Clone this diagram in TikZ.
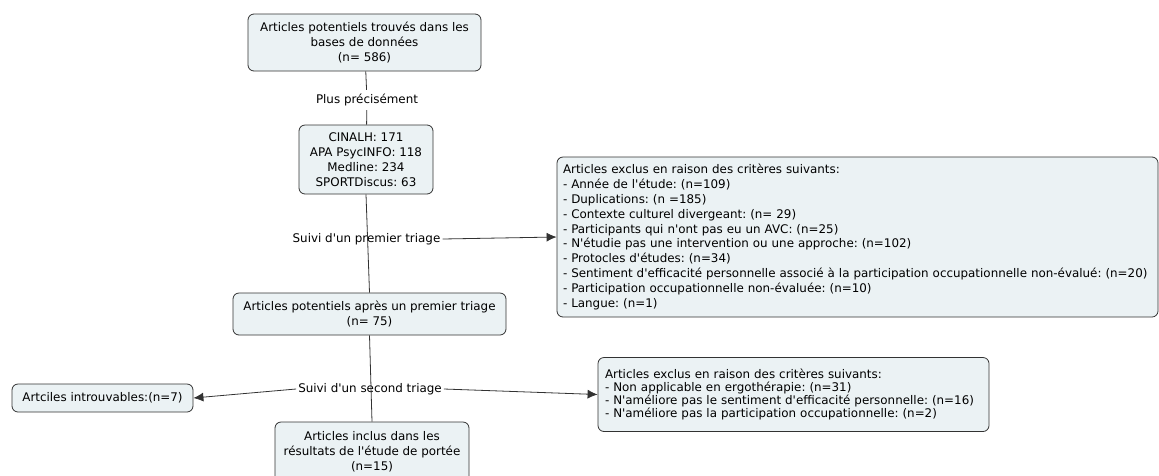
\documentclass[tikz,border=0pt]{standalone}
\usepackage{fontspec}
\setmainfont{DejaVu Sans}[Ligatures=TeXOff]
\usetikzlibrary{arrows.meta}

\definecolor{boxfill}{RGB}{235,242,244}
\definecolor{boxline}{RGB}{50,50,50}

\begin{document}
\frenchspacing
\begin{tikzpicture}[x=1pt,y=-1pt,
    font=\fontsize{11.9}{14.8}\selectfont,
    box/.style={draw=boxline,fill=boxfill,rounded corners=6pt,line width=0.8pt,
      align=center,inner sep=0pt},
    liste/.style={box,align=left},
    etiq/.style={inner sep=2pt},
    lien/.style={draw=boxline,line width=0.8pt},
    fleche/.style={lien,-{Latex[length=10pt,width=9pt]}}]
  \useasboundingbox (0,0) rectangle (1159,475);

  % colonne principale
  \node[box,minimum width=233pt,minimum height=57pt] (trouves) at (364.5,42.5)
    {Articles potentiels trouvés dans les\\bases de données\\(n= 586)};
  \node[etiq,inner sep=4pt] (precis) at (367,100) {Plus précisément};
  \node[box,minimum width=134pt,minimum height=69pt] (bases) at (366,159.5)
    {CINALH: 171\\APA PsycINFO: 118\\Medline: 234\\SPORTDiscus: 63};
  \node[etiq] (triage1) at (366.5,239) {Suivi d'un premier triage};
  \node[box,minimum width=273pt,minimum height=42pt] (apres) at (369.5,314)
    {Articles potentiels après un premier triage\\(n= 75)};
  \node[etiq] (triage2) at (370,389) {Suivi d'un second triage};
  \node[box,minimum width=194pt,minimum height=60pt] (inclus) at (372,452)
    {Articles inclus dans les\\résultats de l'étude de portée\\(n=15)};

  % boites laterales
  \node[box,minimum width=181pt,minimum height=28pt] (introuv) at (102.5,398)
    {Artciles introuvables:(n=7)};
  \node[liste,inner xsep=6pt,text width=589pt,minimum height=160pt] (exclus1) at (857.5,237)
    {Articles exclus en raison des critères suivants:\\
     - Année de l'étude: (n=109)\\
     - Duplications: (n =185)\\
     - Contexte culturel divergeant: (n= 29)\\
     - Participants qui n'ont pas eu un AVC: (n=25)\\
     - N'étudie pas une intervention ou une approche: (n=102)\\
     - Protocles d'études: (n=34)\\
     - Sentiment d'efficacité personnelle associé à la participation occupationnelle non-évalué: (n=20)\\
     - Participation occupationnelle non-évaluée: (n=10)\\
     - Langue: (n=1)};
  \node[liste,inner xsep=7pt,text width=377pt,minimum height=74pt,
    font=\fontsize{11.9}{13.3}\selectfont] (exclus2) at (793.5,394.5)
    {Articles exclus en raison des critères suivants:\\
     - Non applicable en ergothérapie: (n=31)\\
     - N'améliore pas le sentiment d'efficacité personnelle: (n=16)\\
     - N'améliore pas la participation occupationnelle: (n=2)};

  % liens
  \draw[lien] (trouves) -- (precis) -- (bases);
  \draw[lien] (bases.south) -- (apres.north);
  \draw[lien] (apres.south) -- (inclus.north);
  \draw[fleche] (triage1.east) -- (exclus1.west);
  \draw[fleche] (triage2.west) -- (introuv.east);
  \draw[fleche] (triage2.east) -- (exclus2.west);
\end{tikzpicture}
\end{document}
